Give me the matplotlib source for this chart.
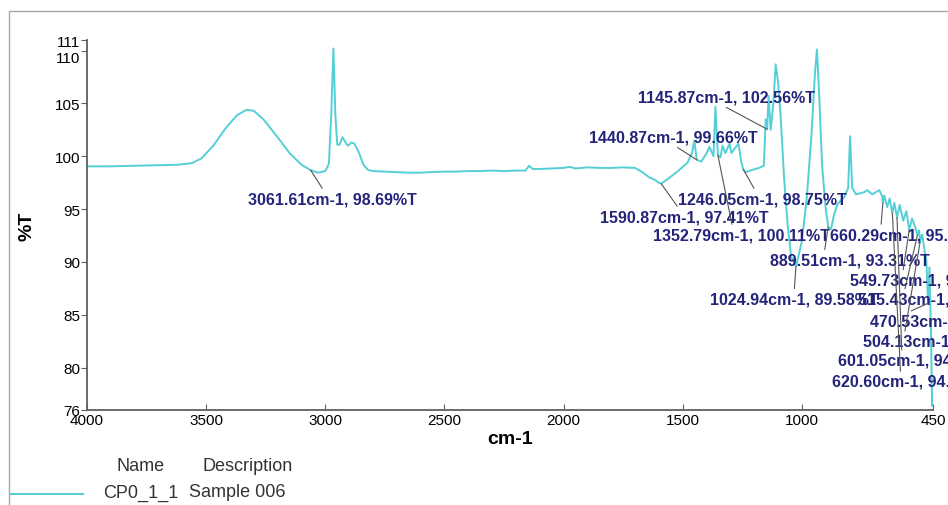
import matplotlib.pyplot as plt
from matplotlib.lines import Line2D
from matplotlib.patches import Rectangle

plt.rcParams['font.family'] = ['Liberation Sans', 'DejaVu Sans']

# FTIR spectrum (cm-1, %T)
wavenumber = [4000, 3900, 3800, 3700, 3620, 3560, 3520, 3470, 3420, 3370, 3330, 3300,
              3260, 3200, 3150, 3100, 3061.61, 3030, 3000, 2985, 2975, 2966, 2958, 2950,
              2940, 2928, 2915, 2905, 2890, 2878, 2860, 2840, 2820, 2800, 2750, 2700,
              2650, 2600, 2560, 2500, 2450, 2400, 2350, 2300, 2250, 2200, 2160, 2145,
              2130, 2100, 2050, 2000, 1975, 1950, 1900, 1850, 1800, 1750, 1700, 1670,
              1640, 1620, 1600, 1590.87, 1560, 1520, 1480, 1460, 1452, 1440.87, 1422,
              1400, 1388, 1371, 1363, 1352.79, 1342, 1333, 1321, 1304, 1296, 1280,
              1266, 1255, 1246.05, 1235, 1210, 1180, 1160, 1152, 1145.87, 1140, 1131,
              1120, 1110, 1100, 1090, 1075, 1060, 1045, 1024.94, 1010, 1000, 980, 960,
              945, 937, 928, 915, 900, 889.51, 878, 865, 850, 823, 806, 798, 789, 773,
              739, 726, 705, 675, 663, 660.29, 655, 642, 632, 620.60, 612, 601.05, 590,
              575, 562, 549.73, 538, 526, 515.43, 508, 504.13, 495, 485, 478, 470.53,
              465, 458, 454, 450]
transmittance = [99.05, 99.05, 99.1, 99.15, 99.2, 99.35, 99.8, 101.0, 102.6, 103.9, 104.4, 104.3,
                 103.5, 101.8, 100.3, 99.2, 98.69, 98.45, 98.6, 99.3, 104.0, 110.2, 104.0, 101.1,
                 101.1, 101.8, 101.3, 101.0, 101.3, 101.2, 100.4, 99.2, 98.7, 98.6, 98.55, 98.5,
                 98.45, 98.45, 98.5, 98.55, 98.55, 98.6, 98.6, 98.65, 98.6, 98.65, 98.65, 99.1,
                 98.8, 98.8, 98.85, 98.9, 99.0, 98.85, 98.95, 98.9, 98.9, 98.95, 98.9, 98.5,
                 98.0, 97.8, 97.5, 97.41, 97.9, 98.6, 99.4, 100.4, 101.5, 99.66, 99.5,
                 100.3, 100.9, 100.0, 104.7, 100.11, 99.9, 101.0, 100.3, 101.2, 100.3, 100.8,
                 101.2, 99.5, 98.75, 98.5, 98.7, 98.9, 99.1, 103.5, 102.56, 105.7, 102.5,
                 105.0, 108.7, 107.0, 104.0, 98.0, 93.5, 90.5, 89.58, 91.0, 92.0, 96.0, 102.0,
                 108.0, 110.1, 106.0, 99.0, 95.0, 93.31, 93.1, 94.5, 95.5, 96.1, 97.0, 101.9, 97.0, 96.4,
                 96.6, 96.8, 96.4, 96.8, 96.2, 95.62, 96.3, 95.2, 96.0, 94.62, 95.6, 94.18, 95.4,
                 93.9, 94.8, 93.05, 94.1, 93.4, 92.53, 93.0, 91.88, 92.6, 91.0, 90.2, 86.10,
                 89.5, 83.0, 76.4, 78.0]

# peak picks
peak_wn = [3061.61, 1145.87, 1440.87, 1246.05, 1590.87, 1352.79, 660.29, 889.51,
           549.73, 1024.94, 515.43, 470.53, 504.13, 601.05, 620.60]
peak_t = [98.69, 102.56, 99.66, 98.75, 97.41, 100.11, 95.62, 93.31,
          93.05, 89.58, 92.53, 86.10, 91.88, 94.18, 94.62]

# where each label sits (left edge, centre) and where its leader meets it
label_pos = [(3324, 96.0), (1688, 105.6), (1894, 101.8), (1520, 96.0), (1847, 94.3),
             (1625, 92.6), (883, 92.6), (1134, 90.2), (798, 88.3), (1386, 86.5),
             (765, 86.5), (715, 84.4), (744, 82.5), (849, 80.7), (874, 78.7)]
leader_rel = [(0.45, 1), (0.47, 0), (0.5, 0), (0.46, 1), (0.47, 1),
              (0.45, 1), (0.32, 1), (0.34, 1), (0.33, 1), (0.5, 1),
              (0.29, 1), (0.22, 1), (0.26, 1), (0.4, 1), (0.43, 1)]

fig = plt.figure(figsize=(9.48, 5.06), dpi=100)
ax = fig.add_axes([87 / 948, 1 - 411 / 506, (933 - 87) / 948, (411 - 41) / 506])

ax.plot(wavenumber, transmittance, color='#55cfd6', lw=1.4)

for wn, t, pos, rel in zip(peak_wn, peak_t, label_pos, leader_rel):
    ax.annotate(f'{wn:.2f}cm-1, {t:.2f}%T', xy=(wn, t), xytext=pos, textcoords='data',
                ha='left', va='center', fontsize=11.5, fontweight='bold', color='#24247a',
                annotation_clip=False,
                arrowprops=dict(arrowstyle='-', color='#555555', lw=0.8, relpos=rel,
                                shrinkA=0, shrinkB=0))

ax.set_xlim(4000, 450)
ax.set_ylim(76, 111)
ax.set_xticks([4000, 3500, 3000, 2500, 2000, 1500, 1000, 450])
ax.set_yticks([76, 80, 85, 90, 95, 100, 105, 110, 111])
ax.tick_params(axis='x', direction='in', length=4, labelsize=11, pad=2, color='#606060')
ax.tick_params(axis='y', direction='out', length=4, labelsize=11, pad=1, color='#606060')
for lab in ax.get_yticklabels():
    if lab.get_text() == '110':
        lab.set_verticalalignment('top')

for side in ['top', 'right']:
    ax.spines[side].set_visible(False)
for side in ['left', 'bottom']:
    ax.spines[side].set_color('#606060')
    ax.spines[side].set_linewidth(1.3)

ax.set_xlabel('cm-1', fontsize=14, fontweight='bold', labelpad=2)
ax.set_ylabel('%T', fontsize=14, fontweight='bold', labelpad=14)

# outer frame and legend table
fig.add_artist(Rectangle((9 / 948, -0.1), 1.2, (506 - 12) / 506 + 0.1, transform=fig.transFigure,
                         fill=False, edgecolor='#a8a8a8', lw=1))
fig.text(117 / 948, 1 - 467 / 506, 'Name', fontsize=13, va='center', color='#333333')
fig.text(203 / 948, 1 - 467 / 506, 'Description', fontsize=13, va='center', color='#333333')
fig.add_artist(Line2D([10 / 948, 83 / 948], [1 - 495 / 506, 1 - 495 / 506],
                      transform=fig.transFigure, color='#55cfd6', lw=1.4))
fig.text(103 / 948, 1 - 493 / 506, 'CP0_1_1', fontsize=13, va='center', color='#333333')
fig.text(189 / 948, 1 - 493 / 506, 'Sample 006', fontsize=13, va='center', color='#333333')

fig.savefig('out.png', dpi=100)
